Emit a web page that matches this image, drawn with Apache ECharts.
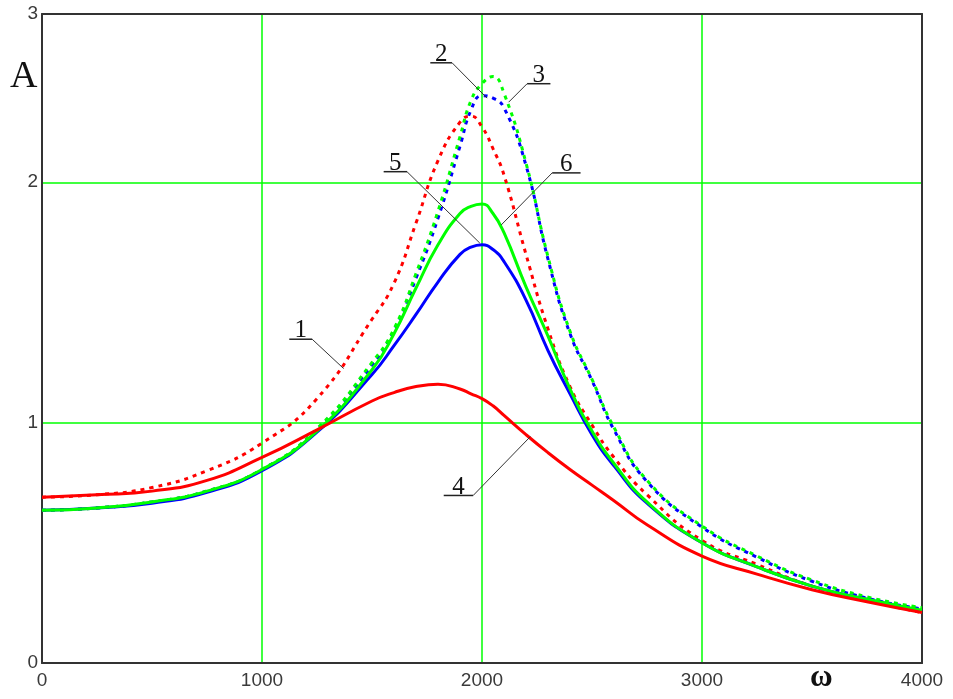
<!DOCTYPE html>
<html>
<head>
<meta charset="utf-8">
<script src="https://cdn.jsdelivr.net/npm/echarts@6/dist/echarts.min.js"></script>
<style>
  html, body { margin: 0; padding: 0; background: #fff; }
  #main { width: 953px; height: 699px; }
</style>
</head>
<body>
<div id="main"></div>
<script>
// frequency values (x axis)
var omega = [0, 250, 500, 750, 1000, 1250, 1500, 1600, 1700, 1800, 1900, 1950, 2000,
             2050, 2100, 2200, 2300, 2400, 2500, 2600, 2750, 3000, 3250, 3500, 3750, 4000];

// amplitudes
var curve1 = [0.69, 0.70, 0.73, 0.80, 0.915, 1.10, 1.43, 1.58, 1.83, 2.09, 2.25, 2.275, 2.23,
              2.14, 2.03, 1.70, 1.39, 1.15, 0.99, 0.855, 0.70, 0.51, 0.41, 0.32, 0.26, 0.21];
var curve2 = [0.635, 0.645, 0.67, 0.715, 0.805, 0.97, 1.24, 1.38, 1.60, 1.85, 2.15, 2.30, 2.36,
              2.35, 2.31, 2.07, 1.68, 1.37, 1.175, 0.97, 0.755, 0.565, 0.44, 0.34, 0.27, 0.225];
var curve3 = [0.635, 0.645, 0.67, 0.715, 0.805, 0.975, 1.25, 1.39, 1.62, 1.88, 2.19, 2.34, 2.41,
              2.44, 2.37, 2.08, 1.69, 1.38, 1.18, 0.98, 0.76, 0.57, 0.445, 0.345, 0.275, 0.23];
var curve4 = [0.69, 0.70, 0.715, 0.76, 0.855, 0.97, 1.09, 1.125, 1.15, 1.16, 1.14, 1.12, 1.10,
              1.07, 1.03, 0.95, 0.875, 0.805, 0.74, 0.675, 0.575, 0.445, 0.37, 0.305, 0.255, 0.21];
var curve5 = [0.635, 0.645, 0.665, 0.71, 0.80, 0.96, 1.20, 1.32, 1.45, 1.585, 1.70, 1.73, 1.74,
              1.72, 1.67, 1.51, 1.30, 1.12, 0.95, 0.82, 0.665, 0.50, 0.40, 0.32, 0.265, 0.215];
var curve6 = [0.635, 0.645, 0.67, 0.715, 0.805, 0.965, 1.22, 1.37, 1.56, 1.74, 1.87, 1.90, 1.91,
              1.87, 1.79, 1.565, 1.36, 1.14, 0.965, 0.83, 0.67, 0.50, 0.40, 0.32, 0.265, 0.22];

// curve callouts: label, then the leader polyline in data units (omega, A)
var calloutText = ['1', '2', '3', '4', '5', '6'];
var calloutPath = [
  [[1124, 1.347], [1228, 1.347], [1371, 1.225]],
  [[1765, 2.497], [1864, 2.497], [2023, 2.35]],
  [[2311, 2.41], [2205, 2.41], [2121, 2.333]],
  [[1826, 0.697], [1960, 0.697], [2220, 0.942]],
  [[1553, 2.044], [1659, 2.044], [1990, 1.747]],
  [[2448, 2.039], [2319, 2.039], [2087, 1.822]]
];

var chart = echarts.init(document.getElementById('main'));

function pairs(ys) {
  return omega.map(function (w, i) { return [w, ys[i]]; });
}

var hide = 'rgba(0,0,0,0)';
var green = '#00ff00';

function curve(name, ys, color, dashed, z) {
  return {
    name: name,
    type: 'line',
    data: pairs(ys),
    smooth: 0.5,
    showSymbol: false,
    z: z,
    lineStyle: { color: color, width: 3, type: dashed ? [4, 5] : 'solid' }
  };
}

var tickFont = { color: '#3a3a3a', fontFamily: 'Liberation Sans', fontSize: 19 };

var option = {
  animation: false,
  grid: { left: 42, top: 14, right: 31, bottom: 36 },
  xAxis: [{
    type: 'value', min: 0, max: 4000, interval: 1000,
    axisLine: { show: true, lineStyle: { color: '#333', width: 2 } },
    axisTick: { show: false },
    axisLabel: Object.assign({ margin: 8, formatter: function (v) { return String(v); } }, tickFont),
    splitLine: { show: true, lineStyle: { color: [hide, green, green, green, hide], width: 1.5 } }
  }, {
    type: 'value', min: 0, max: 4000, position: 'top',
    axisLine: { show: true, onZero: false, lineStyle: { color: '#333', width: 2 } },
    axisTick: { show: false }, axisLabel: { show: false }, splitLine: { show: false }
  }],
  yAxis: [{
    type: 'value', min: 0, max: 2.7, interval: 1,
    axisLine: { show: true, lineStyle: { color: '#333', width: 2 } },
    axisTick: { show: false },
    axisLabel: Object.assign({
      margin: 4, showMaxLabel: true,
      formatter: function (v) { return v > 2.5 ? '3' : String(v); }
    }, tickFont),
    splitLine: { show: true, lineStyle: { color: [hide, green, green, hide], width: 1.5 } }
  }, {
    type: 'value', min: 0, max: 2.7, position: 'right',
    axisLine: { show: true, onZero: false, lineStyle: { color: '#333', width: 2 } },
    axisTick: { show: false }, axisLabel: { show: false }, splitLine: { show: false }
  }],
  series: [
    curve('1', curve1, '#ff0000', true, 2),
    curve('2', curve2, '#0000ff', true, 3),
    curve('3', curve3, '#00ff00', true, 4),
    curve('5', curve5, '#0000ff', false, 5),
    curve('6', curve6, '#00ff00', false, 6),
    curve('4', curve4, '#ff0000', false, 7)
  ],
  graphic: [{
    type: 'text', left: 10, top: 58,
    style: { text: 'A', fontFamily: 'Liberation Serif', fontSize: 38, fill: '#111' }
  }, {
    type: 'text', left: 810, top: 662,
    style: { text: 'ω', fontFamily: 'Liberation Serif', fontWeight: 'bold', fontSize: 31, fill: '#111' }
  }]
};
chart.setOption(option);

// callouts placed through the chart's own coordinate system
var callouts = [];
calloutPath.forEach(function (path, i) {
  var pts = path.map(function (p) {
    return chart.convertToPixel({ xAxisIndex: 0, yAxisIndex: 0 }, p);
  });
  callouts.push({
    type: 'polyline', z: 20,
    shape: { points: [pts[0], pts[1]] },
    style: { stroke: '#222', lineWidth: 1.5, fill: null }
  });
  callouts.push({
    type: 'polyline', z: 20,
    shape: { points: [pts[1], pts[2]] },
    style: { stroke: '#333', lineWidth: 1, fill: null }
  });
  callouts.push({
    type: 'text', z: 20,
    x: (pts[0][0] + pts[1][0]) / 2, y: pts[0][1] + 4,
    style: {
      text: calloutText[i], fontFamily: 'Liberation Serif', fontSize: 25, fill: '#111',
      align: 'center', verticalAlign: 'bottom'
    }
  });
});
chart.setOption({ graphic: option.graphic.concat(callouts) });
</script>
</body>
</html>
